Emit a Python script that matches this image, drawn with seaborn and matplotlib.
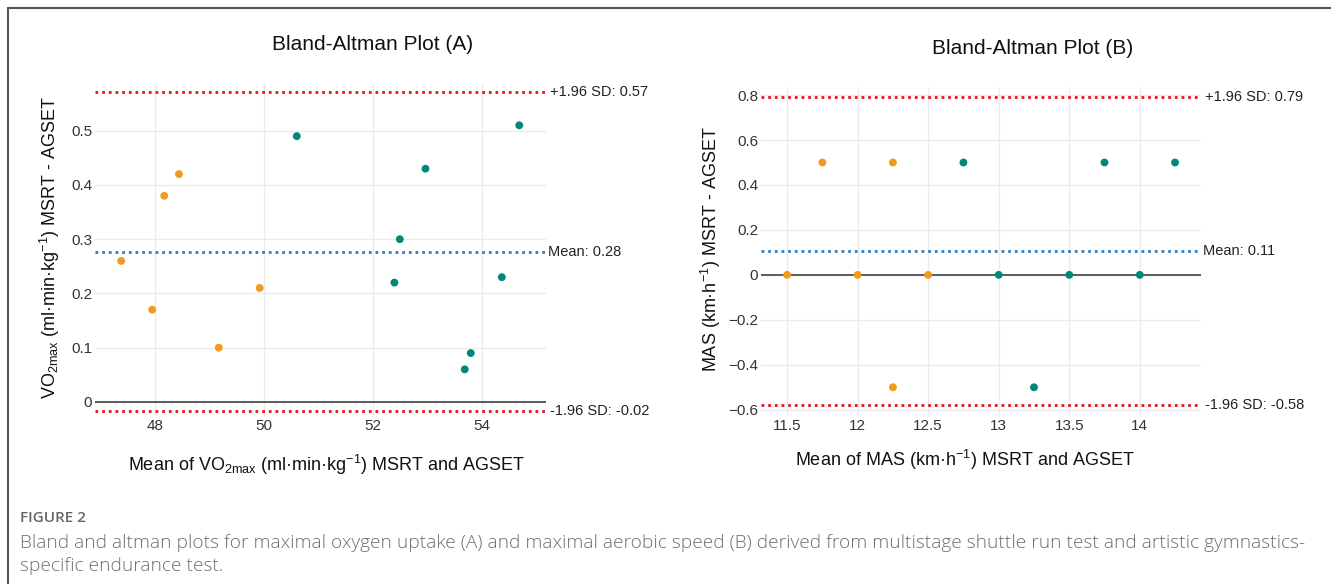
import matplotlib
matplotlib.use("Agg")
import matplotlib.pyplot as plt
from matplotlib.lines import Line2D
import seaborn as sns
import pandas as pd

# panel A: VO2max
a_group1_x = [47.38, 47.95, 48.17, 48.44, 49.17, 49.92]
a_group1_y = [0.26, 0.17, 0.38, 0.42, 0.10, 0.21]
a_group2_x = [50.60, 52.39, 52.49, 52.96, 53.68, 53.79, 54.36, 54.68]
a_group2_y = [0.49, 0.22, 0.30, 0.43, 0.06, 0.09, 0.23, 0.51]
a_mean, a_upper, a_lower = 0.277, 0.571, -0.017
a_xticks = [48, 50, 52, 54]
a_yticks = [0, 0.1, 0.2, 0.3, 0.4, 0.5]

# panel B: MAS
b_group1_x = [11.5, 11.75, 12.0, 12.25, 12.25, 12.5]
b_group1_y = [0.0, 0.5, 0.0, 0.5, -0.5, 0.0]
b_group2_x = [12.75, 13.0, 13.25, 13.5, 13.75, 14.0, 14.25]
b_group2_y = [0.5, 0.0, -0.5, 0.0, 0.5, 0.0, 0.5]
b_mean, b_upper, b_lower = 0.107, 0.79, -0.58
b_xticks = [11.5, 12, 12.5, 13, 13.5, 14]
b_yticks = [-0.6, -0.4, -0.2, 0, 0.2, 0.4, 0.6, 0.8]

palette = {"g1": "#F39A1E", "g2": "#00897B"}


def make_df(x1, y1, x2, y2):
    return pd.DataFrame({
        "mean": x1 + x2,
        "diff": y1 + y2,
        "group": ["g1"] * len(x1) + ["g2"] * len(x2),
    })


def fmt(v):
    return f"{v:g}".replace("-", "\u2212")


def ba_panel(ax, df, mean, upper, lower, xticks, yticks, xlim, ylim):
    ax.set_xlim(*xlim)
    ax.set_ylim(*ylim)
    ax.set_xticks(xticks)
    ax.set_yticks(yticks)
    ax.set_xticklabels([fmt(v) for v in xticks])
    ax.set_yticklabels([fmt(v) for v in yticks])
    ax.grid(True, color="#EBEBEB", lw=1.0)
    ax.set_axisbelow(True)
    for s in ax.spines.values():
        s.set_visible(False)
    ax.tick_params(length=0, labelsize=11, labelcolor="#333333", pad=2)

    ax.axhline(0, color="#333333", lw=1.1, zorder=2)
    ax.axhline(upper, color="#E8141B", lw=2, ls=(0, (1, 1.4)), zorder=2)
    ax.axhline(lower, color="#E8141B", lw=2, ls=(0, (1, 1.4)), zorder=2)
    ax.axhline(mean, color="#2A7FC0", lw=2, ls=(0, (1, 1.4)), zorder=2)

    sns.scatterplot(data=df, x="mean", y="diff", hue="group", palette=palette,
                    s=32, edgecolor="none", legend=False, ax=ax, zorder=3)

    tr = ax.get_yaxis_transform()
    ax.text(1.009, upper, f"+1.96 SD: {upper:.2f}", transform=tr,
            ha="left", va="center", fontsize=10.5, color="#222222")
    ax.text(1.004, mean, f"Mean: {mean:.2f}", transform=tr,
            ha="left", va="center", fontsize=10.5, color="#222222")
    ax.text(1.009, lower, f"-1.96 SD: {lower:.2f}", transform=tr,
            ha="left", va="center", fontsize=10.5, color="#222222")
    ax.set_xlabel("")
    ax.set_ylabel("")


sns.set_theme(style="whitegrid")
plt.rcParams["font.family"] = ["Liberation Sans", "DejaVu Sans"]
plt.rcParams["mathtext.fontset"] = "custom"
plt.rcParams["mathtext.rm"] = "Liberation Sans"
plt.rcParams["mathtext.it"] = "Liberation Sans:italic"
plt.rcParams["mathtext.bf"] = "Liberation Sans:bold"

fig = plt.figure(figsize=(13.31, 5.84), dpi=100)
W, H = 1331, 584

axA = fig.add_axes([95 / W, 1 - 416 / H, 451 / W, 333 / H])
axB = fig.add_axes([761 / W, 1 - 416.5 / H, 440 / W, 330 / H])

dfA = make_df(a_group1_x, a_group1_y, a_group2_x, a_group2_y)
dfB = make_df(b_group1_x, b_group1_y, b_group2_x, b_group2_y)

ba_panel(axA, dfA, a_mean, a_upper, a_lower, a_xticks, a_yticks,
         (46.9, 55.17), (-0.026, 0.588))
ba_panel(axB, dfB, b_mean, b_upper, b_lower, b_xticks, b_yticks,
         (11.315, 14.434), (-0.63, 0.838))

# titles and axis labels
fig.text(373 / W, 1 - 45 / H, "Bland-Altman Plot (A)", ha="center", va="center",
         fontsize=15, color="#111111")
fig.text(1033 / W, 1 - 49 / H, "Bland-Altman Plot (B)", ha="center", va="center",
         fontsize=15, color="#111111")

fig.text(327 / W, 1 - 465 / H,
         r"Mean of VO$_{\mathrm{2max}}$ (ml·min·kg$^{\mathrm{-1}}$) MSRT and AGSET",
         ha="center", va="center", fontsize=13, color="#111111")
fig.text(50 / W, 1 - 247 / H,
         r"VO$_{\mathrm{2max}}$ (ml·min·kg$^{\mathrm{-1}}$) MSRT - AGSET",
         ha="center", va="center", rotation=90, fontsize=13, color="#111111")
fig.text(965 / W, 1 - 460 / H,
         r"Mean of MAS (km·h$^{\mathrm{-1}}$) MSRT and AGSET",
         ha="center", va="center", fontsize=13, color="#111111")
fig.text(711 / W, 1 - 249 / H,
         r"MAS (km·h$^{\mathrm{-1}}$) MSRT - AGSET",
         ha="center", va="center", rotation=90, fontsize=13, color="#111111")

# caption
cap_font = ["Open Sans", "DejaVu Sans"]
fig.text(20 / W, 1 - 518 / H, "FIGURE 2", ha="left", va="center",
         fontsize=11, color="#666666", family=cap_font, fontweight="semibold")
fig.text(20 / W, 1 - 543 / H,
         "Bland and altman plots for maximal oxygen uptake (A) and maximal aerobic speed (B) "
         "derived from multistage shuttle run test and artistic gymnastics-",
         ha="left", va="center", fontsize=13.8, color="#6E6E6E",
         family=cap_font, fontweight="light")
fig.text(20 / W, 1 - 566 / H, "specific endurance test.",
         ha="left", va="center", fontsize=13.8, color="#6E6E6E",
         family=cap_font, fontweight="light")

# frame lines (top and left)
fig.add_artist(Line2D([8 / W, 1], [1 - 8 / H, 1 - 8 / H], color="#555555", lw=1.5,
                      transform=fig.transFigure))
fig.add_artist(Line2D([8 / W, 8 / W], [0, 1 - 8 / H], color="#555555", lw=1.5,
                      transform=fig.transFigure))

fig.savefig("out.png", dpi=100)
